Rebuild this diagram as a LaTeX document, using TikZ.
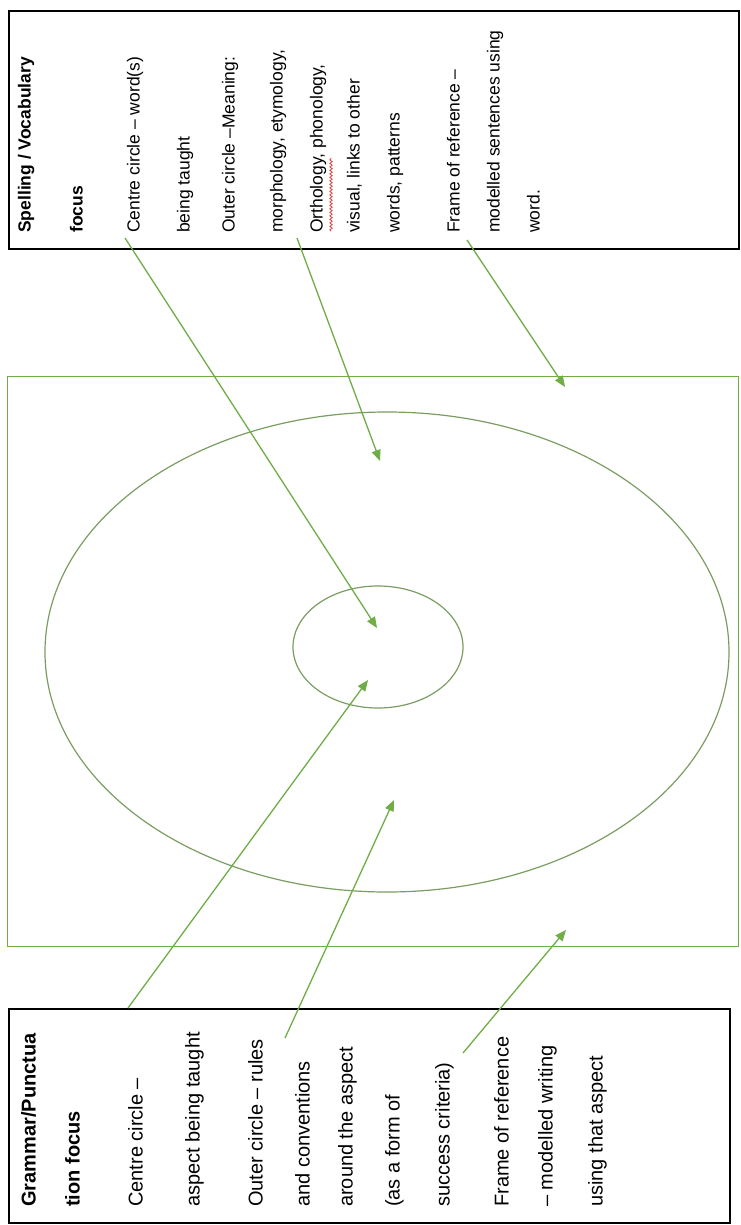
\documentclass[tikz,border=0pt]{standalone}
\usepackage{fontspec}
\setmainfont{Liberation Sans}
\usetikzlibrary{arrows.meta,decorations.pathmorphing,shapes.geometric}
\definecolor{grn}{HTML}{70AD47}
\definecolor{ring}{HTML}{7A9E62}
\definecolor{spell}{HTML}{E0403A}
\begin{document}
\begin{tikzpicture}[x=1pt,y=-1pt,
  box/.style={draw=black,line width=2pt,inner sep=0pt,anchor=north west},
  lnt/.style={rotate=90,anchor=mid west,inner sep=0pt,font=\fontsize{17.5}{20}\selectfont},
  lnb/.style={rotate=90,anchor=mid west,inner sep=0pt,font=\fontsize{20}{24}\selectfont},
  arr/.style={draw=grn,line width=1.3pt,-{Triangle[length=11pt,width=9pt]}},
  ringst/.style={draw=ring,line width=1.2pt,ellipse,inner sep=0pt}]
\useasboundingbox (0,0) rectangle (740,1225);
\fill[white] (0,0) rectangle (740,1225);
% boxes
\node[box,minimum width=730pt,minimum height=238pt] (spellbox) at (8,10) {};
\node[box,minimum width=721pt,minimum height=214pt] (grambox) at (8,1008) {};
% frame and rings
\node[draw=grn,line width=1.4pt,inner sep=0pt,anchor=north west,minimum width=731pt,minimum height=570pt] (frame) at (7,376) {};
\node[ringst,minimum width=684pt,minimum height=480pt] (outer) at (387,652) {};
\node[ringst,minimum width=170pt,minimum height=122pt] (inner) at (378,647) {};
% top text
\foreach \x/\t [count=\i] in {
  28/{\textbf{Spelling / Vocabulary}},
  80/{\textbf{focus}},
  137/{Centre circle – word(s)},
  187/{being taught},
  232/{Outer circle –Meaning:},
  280/{morphology, etymology,},
  320/{Orthology, phonology,},
  357/{visual, links to other},
  397/{words, patterns},
  457/{Frame of reference –},
  497/{modelled sentences using},
  537/{word.}}
  \node[lnt] (s\i) at (\x,233) {\t};
% bottom text
\foreach \x/\t [count=\i] in {
  33/{\textbf{Grammar/Punctua}},
  77/{\textbf{tion focus}},
  140/{Centre circle –},
  197/{aspect being taught},
  260/{Outer circle – rules},
  307/{and conventions},
  350/{around the aspect},
  397/{(as a form of},
  447/{success criteria)},
  506/{Frame of reference},
  550/{– modelled writing},
  600/{using that aspect}}
  \node[lnb] (g\i) at (\x,1207) {\t};
% spell-check squiggle
\draw[spell,line width=0.8pt,decorate,decoration={snake,amplitude=1.2pt,segment length=3.5pt}] (331,231) -- (331,158);
% arrow ends
\coordinate (a1s) at (125,238); \coordinate (a1e) at (377,628);
\coordinate (a2s) at (297,238); \coordinate (a2e) at (380,461);
\coordinate (a3s) at (467,240); \coordinate (a3e) at (565,387);
\coordinate (b1s) at (128,1008); \coordinate (b1e) at (368,680);
\coordinate (b2s) at (285,1038); \coordinate (b2e) at (394,800);
\coordinate (b3s) at (463,1053); \coordinate (b3e) at (566,930);
\draw[arr] (a1s) -- (a1e);
\draw[arr] (a2s) -- (a2e);
\draw[arr] (a3s) -- (a3e);
\draw[arr] (b1s) -- (b1e);
\draw[arr] (b2s) -- (b2e);
\draw[arr] (b3s) -- (b3e);
\end{tikzpicture}
\end{document}
